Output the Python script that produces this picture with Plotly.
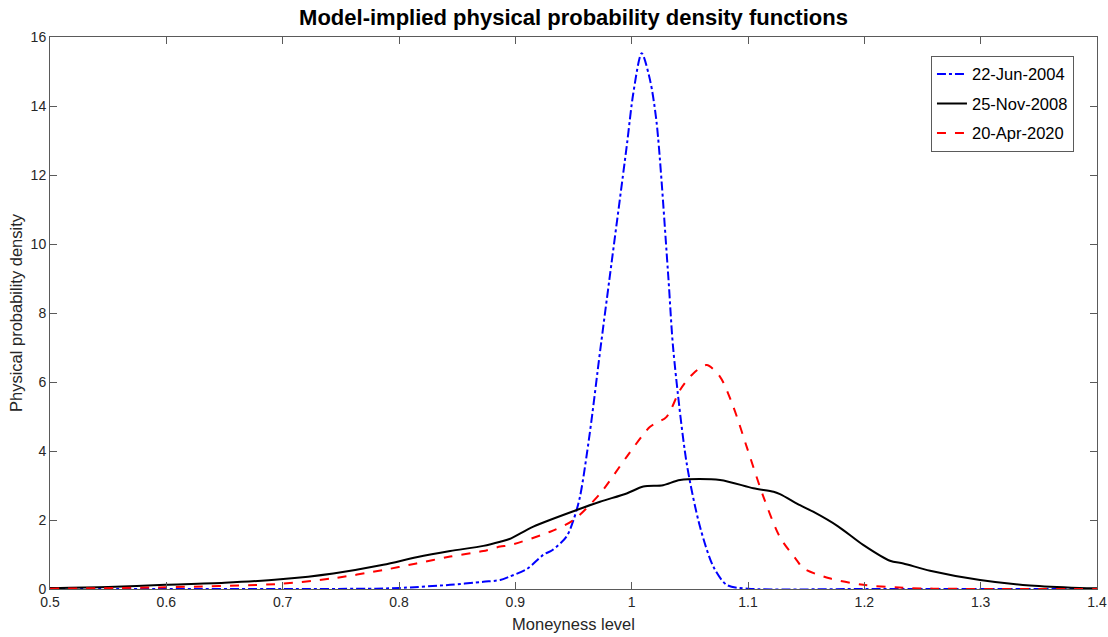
import plotly.graph_objects as go

# ---- data ----
jun2004_x = [0.5, 0.6, 0.7, 0.78, 0.8, 0.844, 0.8725, 0.887, 0.895, 0.91, 0.924, 0.932, 0.944, 0.950,
             0.9556, 0.964, 0.973, 0.981, 0.9957, 1.0014, 1.0086, 1.0158, 1.0215, 1.0315,
             1.0358, 1.0473, 1.0587, 1.0702, 1.0817, 1.1, 1.2, 1.4]
jun2004_y = [0.0, 0.0, 0.0, 0.01, 0.03, 0.12, 0.21, 0.26, 0.36, 0.58, 0.99, 1.13, 1.52, 2.0,
             2.68, 4.52, 6.93, 9.01, 12.82, 14.37, 15.53, 14.75, 13.5, 9.05,
             6.93, 3.64, 1.81, 0.65, 0.12, 0.01, 0.0, 0.0]

nov2008_x = [0.5, 0.55, 0.599, 0.65, 0.698, 0.7435, 0.7865, 0.815, 0.844, 0.8725, 0.887, 0.895,
             0.9155, 0.9527, 0.9728, 0.9957, 1.01, 1.027, 1.0416, 1.076, 1.1046, 1.122,
             1.1275, 1.1447, 1.156, 1.1777, 1.199, 1.222, 1.2335, 1.2565, 1.2995, 1.3424,
             1.385, 1.4]
nov2008_y = [0.03, 0.06, 0.12, 0.18, 0.28, 0.45, 0.70, 0.92, 1.10, 1.25, 1.37, 1.45,
             1.81, 2.29, 2.53, 2.77, 2.97, 3.01, 3.16, 3.16, 2.92, 2.82,
             2.75, 2.43, 2.24, 1.81, 1.28, 0.82, 0.74, 0.53, 0.26, 0.10,
             0.03, 0.02]

apr2020_x = [0.5, 0.599, 0.698, 0.7435, 0.7865, 0.815, 0.844, 0.8725, 0.887, 0.895, 0.93, 0.95,
             0.973, 0.9957, 1.0158, 1.03, 1.0416, 1.053, 1.0645, 1.076, 1.0874, 1.0989,
             1.1132, 1.1275, 1.1418, 1.1476, 1.17, 1.199, 1.23, 1.26, 1.4]
apr2020_y = [0.01, 0.05, 0.15, 0.31, 0.55, 0.74, 0.94, 1.10, 1.23, 1.27, 1.66, 2.0,
             2.77, 3.83, 4.7, 4.99, 5.77, 6.25, 6.49, 6.15, 5.28, 4.12,
             2.68, 1.5, 0.84, 0.60, 0.31, 0.12, 0.04, 0.01, 0.0]

series_names = ["22-Jun-2004", "25-Nov-2008", "20-Apr-2020"]
x_tickvals = [0.5, 0.6, 0.7, 0.8, 0.9, 1.0, 1.1, 1.2, 1.3, 1.4]
x_ticktext = ["0.5", "0.6", "0.7", "0.8", "0.9", "1", "1.1", "1.2", "1.3", "1.4"]
y_tickvals = [0, 2, 4, 6, 8, 10, 12, 14, 16]

FONT = "Liberation Sans, Arial, sans-serif"

fig = go.Figure()
styles = [("#0000ff", "dashdot"), ("#000000", "solid"), ("#ff0000", "dash")]
for i, (xs, ys) in enumerate([(jun2004_x, jun2004_y), (nov2008_x, nov2008_y), (apr2020_x, apr2020_y)]):
    col, dash = styles[i]
    fig.add_trace(go.Scatter(
        x=xs, y=ys, mode="lines", name=series_names[i], legendgroup=f"g{i}",
        line=dict(color=col, dash=dash, width=2, shape="spline", smoothing=0.8),
    ))

axis_common = dict(
    showline=True, linecolor="#5a5a5a", linewidth=1, mirror="ticks",
    ticks="inside", ticklen=7, tickcolor="#5a5a5a", showgrid=False, zeroline=False,
    automargin=False,
    tickfont=dict(family=FONT, size=14, color="#262626"),
)
fig.update_xaxes(range=[0.5, 1.4], tickvals=x_tickvals, ticktext=x_ticktext,
                 title=dict(text="Moneyness level", font=dict(family=FONT, size=16.5, color="#262626"), standoff=9),
                 **axis_common)
fig.update_yaxes(range=[0, 16], tickvals=y_tickvals,
                 title=dict(text="Physical probability density", font=dict(family=FONT, size=16.5, color="#262626"), standoff=3),
                 **axis_common)

fig.update_layout(
    width=1108, height=637,
    margin=dict(l=50, r=11, t=37, b=48),
    paper_bgcolor="white", plot_bgcolor="white",
    title=dict(text="<b>Model-implied physical probability density functions</b>",
               x=0.5, xref="paper", xanchor="center", y=0.973, yref="container",
               yanchor="middle", font=dict(family=FONT, size=22, color="black")),
    legend=dict(x=0.978, y=0.966, xanchor="right", yanchor="top",
                bordercolor="#5a5a5a", borderwidth=1, bgcolor="white",
                font=dict(family=FONT, size=16.5, color="black"),
                tracegroupgap=5),
    showlegend=True,
)

fig.write_html("out.html", config={"displayModeBar": False},
               post_script="document.body.style.margin='0';document.body.style.overflow='hidden';")
